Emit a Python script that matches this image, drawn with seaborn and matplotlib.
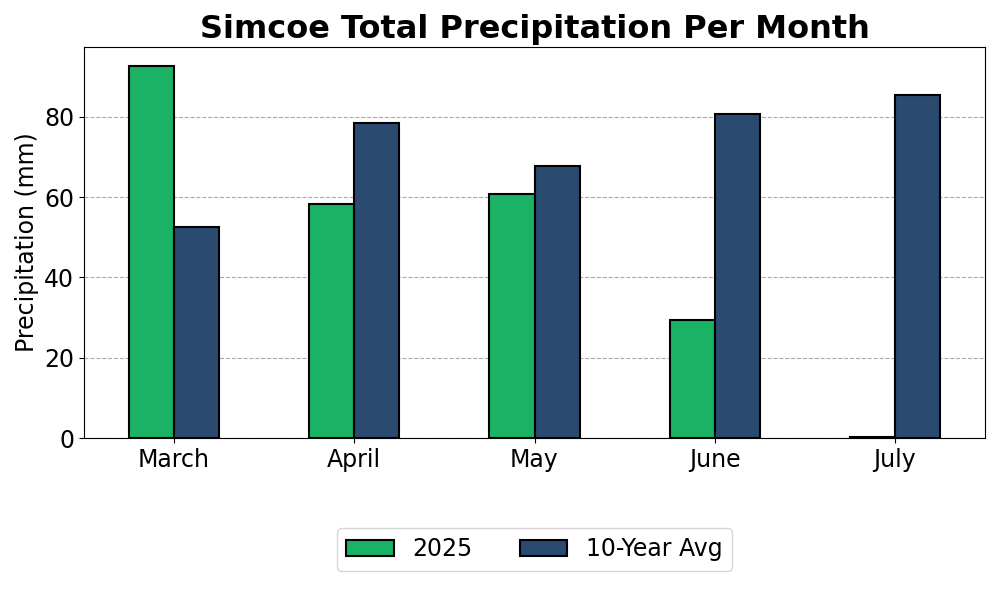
import pandas as pd
import numpy as np
import matplotlib.pyplot as plt
import seaborn as sns

months = ['March', 'April', 'May', 'June', 'July']
precip_2025 = [92.7, 58.3, 60.8, 29.4, 0.3]
precip_avg = [52.6, 78.5, 67.8, 80.7, 85.5]
series = ['2025', '10-Year Avg']

df = pd.DataFrame({
    'Month': months * 2,
    'Series': [series[0]] * len(months) + [series[1]] * len(months),
    'Precipitation': precip_2025 + precip_avg,
})

plt.rcParams['font.family'] = ['DejaVu Sans']

fig, ax = plt.subplots(figsize=(10, 6), dpi=100)
sns.barplot(data=df, x='Month', y='Precipitation', hue='Series',
            palette=['#1ab264', '#2a4a6f'], width=0.5, gap=0,
            edgecolor='black', linewidth=1.5, saturation=1, ax=ax)

ax.set_title('Simcoe Total Precipitation Per Month', fontsize=23, fontweight='bold')
ax.set_xlabel('')
ax.set_ylabel('Precipitation (mm)', fontsize=17)
ax.tick_params(axis='both', labelsize=17)
ax.set_xlim(-0.5, 4.5)
ax.set_ylim(0, 97.4)
ax.yaxis.grid(True, linestyle='--', color='#aaaaaa', linewidth=0.8)
ax.set_axisbelow(True)

ax.legend(loc='upper center', bbox_to_anchor=(0.5, -0.2), ncol=2, fontsize=17,
          title=None, frameon=True)

fig.subplots_adjust(left=0.084, right=0.985, top=0.922, bottom=0.27)
fig.savefig('out.png', dpi=100)
